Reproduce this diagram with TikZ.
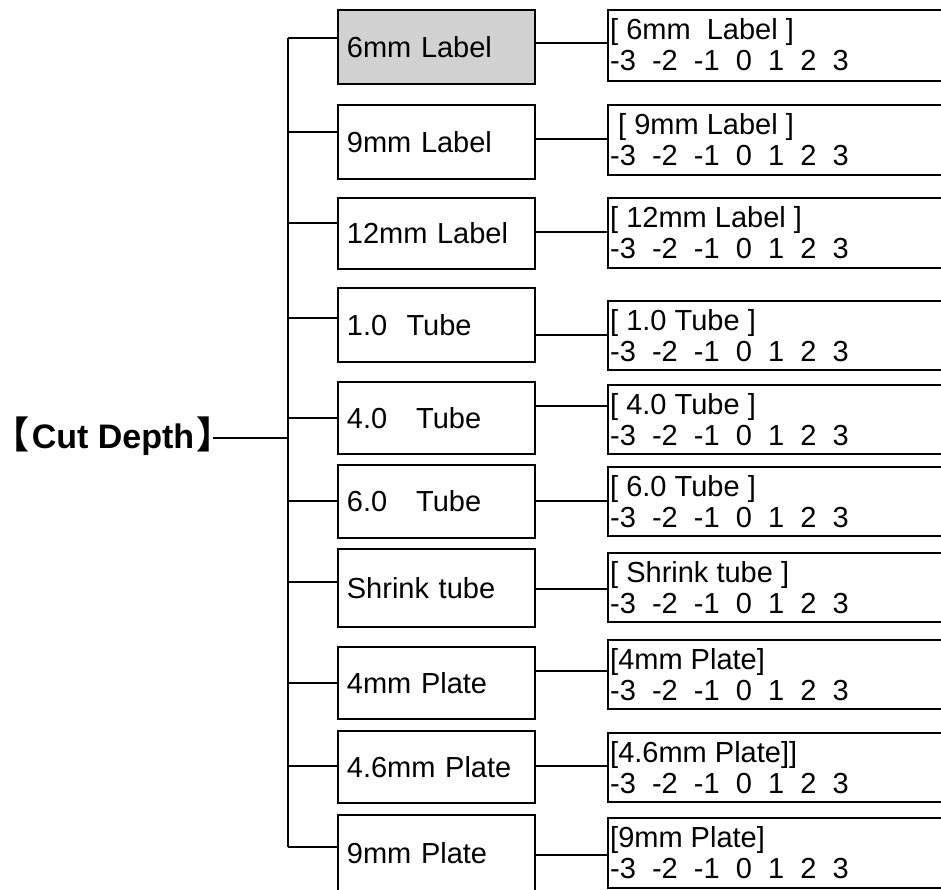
\documentclass[tikz,border=0pt]{standalone}
\usepackage{fontspec}
\setmainfont{Liberation Sans}
\newfontfamily\cjk{Noto Sans CJK SC}
\tikzset{
  lbox/.style={draw, line width=1.8pt, rectangle, anchor=north west, minimum width=197pt,
    inner xsep=9pt, inner ysep=0pt, text width=179pt, align=left,
    font=\fontsize{29}{31}\selectfont},
  rbox/.style={draw, line width=1.8pt, rectangle, anchor=north west, minimum width=360pt, inner sep=0pt},
  rtext/.style={anchor=base west, inner sep=0pt, font=\fontsize{29}{31}\selectfont},
  conn/.style={line width=1.4pt},
}
\begin{document}
\begin{tikzpicture}[x=1pt,y=-1pt]
\clip (0,0) rectangle (941,889);
\fill[white] (0,0) rectangle (941,889);

% left boxes
\node[lbox, minimum height=74pt, fill=black!18] (l1) at (337,9) {6mm Label};
\node[lbox, minimum height=74pt] (l2) at (337,104) {9mm Label};
\node[lbox, minimum height=71pt] (l3) at (337,197) {12mm Label};
\node[lbox, minimum height=74pt] (l4) at (337,287) {1.0\ \ Tube};
\node[lbox, minimum height=72pt] (l5) at (337,381) {4.0\ \ \ Tube};
\node[lbox, minimum height=73pt] (l6) at (337,464) {6.0\ \ \ Tube};
\node[lbox, minimum height=78pt] (l7) at (337,548) {Shrink tube};
\node[lbox, minimum height=72pt] (l8) at (337,646) {4mm Plate};
\node[lbox, minimum height=72pt] (l9) at (337,730) {4.6mm Plate};
\node[lbox, minimum height=76pt] (l10) at (337,814) {9mm Plate};

% right boxes
\node[rbox, minimum height=71pt] (r1) at (607,9) {};
\node[rbox, minimum height=70pt] (r2) at (607,104) {};
\node[rbox, minimum height=70pt] (r3) at (607,197) {};
\node[rbox, minimum height=69pt] (r4) at (607,300) {};
\node[rbox, minimum height=69pt] (r5) at (607,384) {};
\node[rbox, minimum height=69pt] (r6) at (607,466) {};
\node[rbox, minimum height=69pt] (r7) at (607,552) {};
\node[rbox, minimum height=69pt] (r8) at (607,639) {};
\node[rbox, minimum height=69pt] (r9) at (607,732) {};
\node[rbox, minimum height=70pt] (r10) at (607,817) {};

% right texts
\node[rtext] (t1a) at (610,39) {[ 6mm\ \ Label ]};
\node[rtext] (t1b) at (610,70) {-3\ \ -2\ \ -1\ \ 0\ \ 1\ \ 2\ \ 3};
\node[rtext] (t2a) at (618,134) {[ 9mm Label ]};
\node[rtext] (t2b) at (610,165) {-3\ \ -2\ \ -1\ \ 0\ \ 1\ \ 2\ \ 3};
\node[rtext] (t3a) at (610,227) {[ 12mm Label ]};
\node[rtext] (t3b) at (610,258) {-3\ \ -2\ \ -1\ \ 0\ \ 1\ \ 2\ \ 3};
\node[rtext] (t4a) at (610,330) {[ 1.0 Tube ]};
\node[rtext] (t4b) at (610,361) {-3\ \ -2\ \ -1\ \ 0\ \ 1\ \ 2\ \ 3};
\node[rtext] (t5a) at (610,414) {[ 4.0 Tube ]};
\node[rtext] (t5b) at (610,445) {-3\ \ -2\ \ -1\ \ 0\ \ 1\ \ 2\ \ 3};
\node[rtext] (t6a) at (610,496) {[ 6.0 Tube ]};
\node[rtext] (t6b) at (610,527) {-3\ \ -2\ \ -1\ \ 0\ \ 1\ \ 2\ \ 3};
\node[rtext] (t7a) at (610,582) {[ Shrink tube ]};
\node[rtext] (t7b) at (610,613) {-3\ \ -2\ \ -1\ \ 0\ \ 1\ \ 2\ \ 3};
\node[rtext] (t8a) at (610,669) {[4mm Plate]};
\node[rtext] (t8b) at (610,700) {-3\ \ -2\ \ -1\ \ 0\ \ 1\ \ 2\ \ 3};
\node[rtext] (t9a) at (610,762) {[4.6mm Plate]]};
\node[rtext] (t9b) at (610,793) {-3\ \ -2\ \ -1\ \ 0\ \ 1\ \ 2\ \ 3};
\node[rtext] (t10a) at (610,847) {[9mm Plate]};
\node[rtext] (t10b) at (610,878) {-3\ \ -2\ \ -1\ \ 0\ \ 1\ \ 2\ \ 3};

% root
\node[anchor=base east, inner sep=0pt, font=\fontsize{34}{36}\selectfont\bfseries] (cd) at (213,448)
  {\kern-15pt{\cjk\fontsize{37}{40}\selectfont 【}\kern2pt Cut Depth\kern2pt{\cjk\fontsize{37}{40}\selectfont 】}\kern-0.6em};

% trunk
\coordinate (ttop) at (288,38);
\coordinate (tbot) at (288,847);
\coordinate (tmid) at (288,438);
\draw[conn] (ttop) -- (tbot);
\draw[conn] (cd.base east |- tmid) -- (tmid);

% branches to left boxes
\draw[conn] (288,38)  -- (l1.west |- 0,38);
\draw[conn] (288,132) -- (l2.west |- 0,132);
\draw[conn] (288,223) -- (l3.west |- 0,223);
\draw[conn] (288,318) -- (l4.west |- 0,318);
\draw[conn] (288,418) -- (l5.west |- 0,418);
\draw[conn] (288,501) -- (l6.west |- 0,501);
\draw[conn] (288,582) -- (l7.west |- 0,582);
\draw[conn] (288,683) -- (l8.west |- 0,683);
\draw[conn] (288,766) -- (l9.west |- 0,766);
\draw[conn] (288,847) -- (l10.west |- 0,847);

% left to right boxes
\draw[conn] (l1.east |- 0,43)   -- (r1.west |- 0,43);
\draw[conn] (l2.east |- 0,139)  -- (r2.west |- 0,139);
\draw[conn] (l3.east |- 0,232)  -- (r3.west |- 0,232);
\draw[conn] (l4.east |- 0,335)  -- (r4.west |- 0,335);
\draw[conn] (l5.east |- 0,406)  -- (r5.west |- 0,406);
\draw[conn] (l6.east |- 0,501)  -- (r6.west |- 0,501);
\draw[conn] (l7.east |- 0,589)  -- (r7.west |- 0,589);
\draw[conn] (l8.east |- 0,671)  -- (r8.west |- 0,671);
\draw[conn] (l9.east |- 0,766)  -- (r9.west |- 0,766);
\draw[conn] (l10.east |- 0,855) -- (r10.west |- 0,855);
\end{tikzpicture}
\end{document}
